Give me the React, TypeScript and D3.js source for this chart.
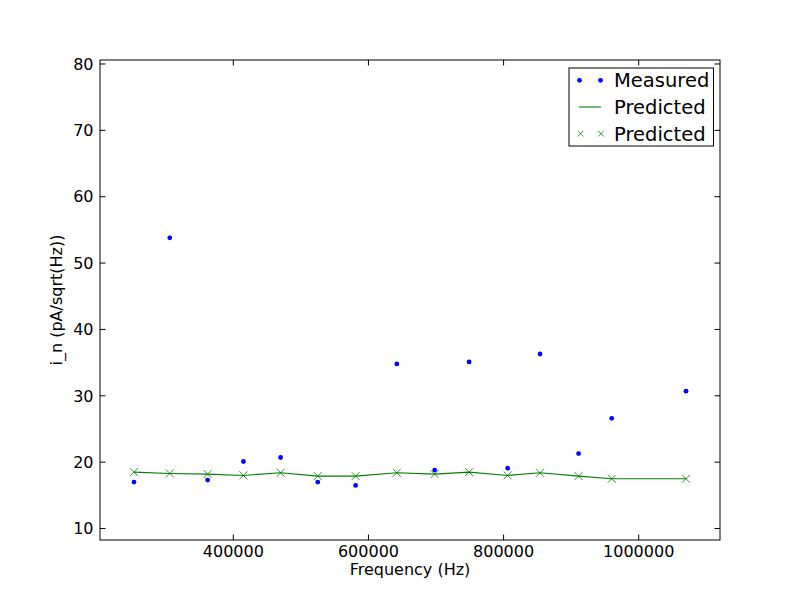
import * as d3 from "d3";

const freqs = [253000, 306000, 362000, 415000, 470000, 525000, 581000, 642000, 698000, 749000, 806000, 854000, 911000, 960000, 1070000];
const measured = [17.0, 53.8, 17.3, 20.1, 20.7, 17.0, 16.5, 34.8, 18.8, 35.1, 19.1, 36.3, 21.3, 26.6, 30.7];
const predicted = [18.5, 18.3, 18.2, 18.0, 18.4, 17.9, 17.9, 18.4, 18.2, 18.5, 18.0, 18.4, 17.9, 17.5, 17.5];
const legendLabels = ["Measured", "Predicted", "Predicted"];

const W = 800;
const H = 600;
const margin = { top: 60, right: 80, bottom: 60, left: 100 };
const font = "'DejaVu Sans', sans-serif";
const green = "#008000";

function Cross({ cx, cy, r }: { cx: number; cy: number; r: number }) {
  return (
    <path
      d={`M${cx - r},${cy - r}L${cx + r},${cy + r}M${cx - r},${cy + r}L${cx + r},${cy - r}`}
      stroke={green}
      strokeWidth={0.8}
      fill="none"
    />
  );
}

export default function App() {
  const innerW = W - margin.left - margin.right;
  const innerH = H - margin.top - margin.bottom;

  const x = d3.scaleLinear().domain([202700, 1120300]).range([0, innerW]);
  const y = d3.scaleLinear().domain([8.27, 80.6]).range([innerH, 0]);

  const line = d3
    .line<number>()
    .x((_, i) => x(freqs[i]))
    .y((d) => y(d));

  const xTicks = x.ticks(5);
  const yTicks = y.ticks(8);
  const tl = 5.5;
  const fs = 16;

  const lx = 569 - margin.left;
  const ly = 68 - margin.top;
  const rowH = 26.7;

  return (
    <svg width={W} height={H} style={{ display: "block", margin: "-8px", background: "#fff" }}>
      <rect width={W} height={H} fill="#fff" />
      <g transform={`translate(${margin.left},${margin.top})`} fontFamily={font}>
        <path d={line(predicted) ?? ""} stroke={green} strokeWidth={1.1} fill="none" />
        {predicted.map((d, i) => (
          <Cross key={"p" + i} cx={x(freqs[i])} cy={y(d)} r={4} />
        ))}
        {measured.map((d, i) => (
          <circle key={"m" + i} cx={x(freqs[i])} cy={y(d)} r={2.4} fill="#0000ff" />
        ))}

        {xTicks.map((t) => (
          <g key={"x" + t}>
            <line x1={x(t)} x2={x(t)} y1={innerH} y2={innerH - tl} stroke="#000" />
            <line x1={x(t)} x2={x(t)} y1={0} y2={tl} stroke="#000" />
            <text x={x(t)} y={innerH + 17} textAnchor="middle" fontSize={fs} fill="#000">
              {t}
            </text>
          </g>
        ))}
        {yTicks.map((t) => (
          <g key={"y" + t}>
            <line x1={0} x2={tl} y1={y(t)} y2={y(t)} stroke="#000" />
            <line x1={innerW} x2={innerW - tl} y1={y(t)} y2={y(t)} stroke="#000" />
            <text x={-6.5} y={y(t)} dy="0.36em" textAnchor="end" fontSize={fs} fill="#000">
              {t}
            </text>
          </g>
        ))}
        <rect x={0} y={0} width={innerW} height={innerH} fill="none" stroke="#000" strokeWidth={1} />

        <text x={innerW / 2} y={innerH + 34.5} textAnchor="middle" fontSize={fs} fill="#000">
          Frequency (Hz)
        </text>
        <text
          transform={`translate(${-38},${innerH / 2}) rotate(-90)`}
          textAnchor="middle"
          fontSize={fs}
          fill="#000"
        >
          i_n (pA/sqrt(Hz))
        </text>

        <g transform={`translate(${lx},${ly})`}>
          <rect x={0} y={0} width={144.5} height={78} fill="#fff" stroke="#000" strokeWidth={1} />
          {legendLabels.map((lab, i) => {
            const cy = 12.3 + i * rowH;
            return (
              <g key={"l" + i}>
                {i === 0 && (
                  <>
                    <circle cx={10.5} cy={cy} r={2.4} fill="#0000ff" />
                    <circle cx={31.5} cy={cy} r={2.4} fill="#0000ff" />
                  </>
                )}
                {i === 1 && <line x1={10} x2={32} y1={cy} y2={cy} stroke={green} strokeWidth={1.1} />}
                {i === 2 && (
                  <>
                    <Cross cx={11.5} cy={cy} r={2.8} />
                    <Cross cx={32} cy={cy} r={2.8} />
                  </>
                )}
                <text x={45} y={cy} dy="0.36em" fontSize={19.5} fill="#000">
                  {lab}
                </text>
              </g>
            );
          })}
        </g>
      </g>
    </svg>
  );
}
